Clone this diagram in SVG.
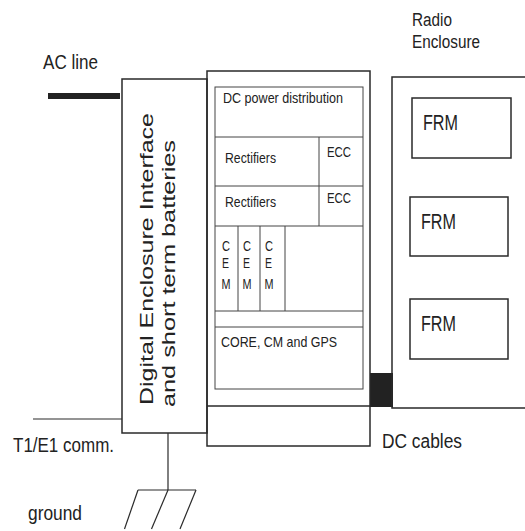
<svg xmlns="http://www.w3.org/2000/svg" width="525" height="531" viewBox="0 0 525 531">
<style>
.t{font-family:"Liberation Sans",Arial,sans-serif;fill:#222}
.o{fill:none;stroke:#2a2a2a;stroke-width:1.5}
.i{fill:none;stroke:#444;stroke-width:1}
.c{fill:none;stroke:#2a2a2a;stroke-width:1.2}
</style>
<rect width="525" height="531" fill="#fff"/>
<g id="labels">
<text class="t" x="43" y="69" font-size="20" textLength="55" lengthAdjust="spacingAndGlyphs">AC line</text>
<text class="t" x="412" y="26" font-size="18" textLength="40" lengthAdjust="spacingAndGlyphs">Radio</text>
<text class="t" x="412" y="48" font-size="18" textLength="68" lengthAdjust="spacingAndGlyphs">Enclosure</text>
<text class="t" x="382" y="448" font-size="20" textLength="80" lengthAdjust="spacingAndGlyphs">DC cables</text>
<text class="t" x="13" y="452" font-size="20" textLength="101" lengthAdjust="spacingAndGlyphs">T1/E1 comm.</text>
<text class="t" x="28" y="520" font-size="20" textLength="54" lengthAdjust="spacingAndGlyphs">ground</text>
</g>
<g id="connectors">
<line x1="48" y1="96" x2="120" y2="96" stroke="#222" stroke-width="6"/>
<line class="c" x1="33" y1="419" x2="122" y2="419"/>
<line class="c" x1="168" y1="433" x2="168" y2="490"/>
<line class="c" x1="138" y1="490" x2="196" y2="490"/>
<line class="c" x1="138" y1="490" x2="124.5" y2="529"/>
<line class="c" x1="168" y1="490" x2="151.5" y2="529"/>
<line class="c" x1="196" y1="490" x2="180" y2="529"/>
<rect x="370" y="373" width="23" height="34" fill="#222"/>
</g>
<g id="interface">
<rect class="o" x="122" y="79" width="85" height="354"/>
<text class="t" transform="translate(153,405) rotate(-90)" font-size="18" textLength="292" lengthAdjust="spacingAndGlyphs">Digital Enclosure Interface</text>
<text class="t" transform="translate(175,407) rotate(-90)" font-size="18" textLength="267" lengthAdjust="spacingAndGlyphs">and short term batteries</text>
</g>
<g id="digital-enclosure">
<rect class="o" x="207" y="71" width="163" height="375"/>
<line class="o" x1="207" y1="406" x2="370" y2="406"/>
<rect class="i" x="215" y="87" width="148" height="302"/>
<line class="i" x1="215" y1="137" x2="363" y2="137"/>
<line class="i" x1="215" y1="186" x2="363" y2="186"/>
<line class="i" x1="215" y1="226" x2="363" y2="226"/>
<line class="i" x1="319" y1="137" x2="319" y2="226"/>
<line class="i" x1="238" y1="226" x2="238" y2="311"/>
<line class="i" x1="260" y1="226" x2="260" y2="311"/>
<line class="i" x1="285" y1="226" x2="285" y2="311"/>
<line class="i" x1="215" y1="311" x2="363" y2="311"/>
<line class="i" x1="215" y1="327" x2="363" y2="327"/>
<text class="t" x="223" y="103" font-size="15" textLength="120" lengthAdjust="spacingAndGlyphs">DC power distribution</text>
<text class="t" x="225" y="163" font-size="15" textLength="51" lengthAdjust="spacingAndGlyphs">Rectifiers</text>
<text class="t" x="225" y="207" font-size="15" textLength="51" lengthAdjust="spacingAndGlyphs">Rectifiers</text>
<text class="t" x="327" y="157" font-size="14" textLength="24" lengthAdjust="spacingAndGlyphs">ECC</text>
<text class="t" x="327" y="203" font-size="14" textLength="24" lengthAdjust="spacingAndGlyphs">ECC</text>
<g class="t" font-size="14" lengthAdjust="spacingAndGlyphs">
<text x="222" y="251" textLength="8" lengthAdjust="spacingAndGlyphs">C</text><text x="222" y="268" textLength="7" lengthAdjust="spacingAndGlyphs">E</text><text x="221.5" y="289" textLength="9" lengthAdjust="spacingAndGlyphs">M</text>
<text x="243" y="251" textLength="8" lengthAdjust="spacingAndGlyphs">C</text><text x="243" y="268" textLength="7" lengthAdjust="spacingAndGlyphs">E</text><text x="242.5" y="289" textLength="9" lengthAdjust="spacingAndGlyphs">M</text>
<text x="265" y="251" textLength="8" lengthAdjust="spacingAndGlyphs">C</text><text x="265" y="268" textLength="7" lengthAdjust="spacingAndGlyphs">E</text><text x="264.5" y="289" textLength="9" lengthAdjust="spacingAndGlyphs">M</text>
</g>
<text class="t" x="221" y="347" font-size="15" textLength="116" lengthAdjust="spacingAndGlyphs">CORE, CM and GPS</text>
</g>
<g id="radio-enclosure">
<path class="o" d="M525,77 H392 V408 H525"/>
</g>
<g id="frm1">
<rect class="o" x="412" y="98" width="99" height="60"/>
<text class="t" x="423" y="130" font-size="22" textLength="35" lengthAdjust="spacingAndGlyphs">FRM</text>
</g>
<g id="frm2">
<rect class="o" x="410" y="197" width="98" height="59"/>
<text class="t" x="421" y="229" font-size="22" textLength="35" lengthAdjust="spacingAndGlyphs">FRM</text>
</g>
<g id="frm3">
<rect class="o" x="410" y="299" width="98" height="60"/>
<text class="t" x="421" y="331" font-size="22" textLength="35" lengthAdjust="spacingAndGlyphs">FRM</text>
</g>
</svg>
